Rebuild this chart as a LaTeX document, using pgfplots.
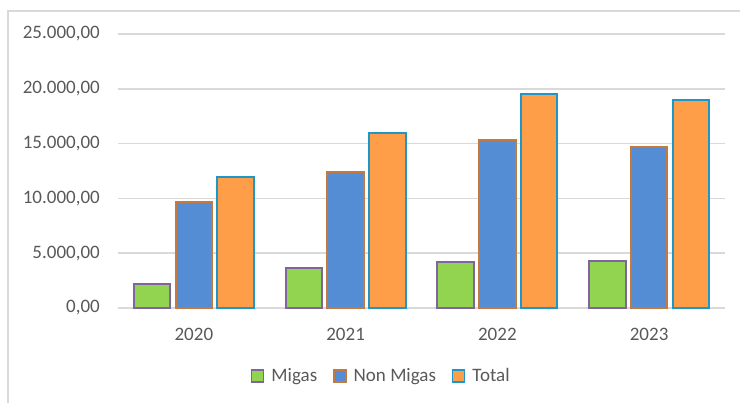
\documentclass[border=0pt]{standalone}
\usepackage{pgfplots}
\pgfplotsset{compat=1.18}
\usepackage{fontspec}
\setmainfont{Carlito}
\definecolor{migasfill}{RGB}{146,212,80}
\definecolor{migasline}{RGB}{128,100,162}
\definecolor{nonfill}{RGB}{84,141,212}
\definecolor{nonline}{RGB}{196,122,62}
\definecolor{totfill}{RGB}{255,158,72}
\definecolor{totline}{RGB}{30,150,200}
\definecolor{gridc}{RGB}{217,217,217}
\definecolor{txt}{RGB}{89,89,89}
\begin{document}
\begin{tikzpicture}[font=\fontsize{19bp}{23bp}\selectfont]
\useasboundingbox (-118bp,-95bp) rectangle (622bp,308bp);
\draw[gridc, line width=1.2bp] (-110bp,-95bp) -- (-110bp,297bp) -- (622bp,297bp);
\begin{axis}[
  at={(0bp,0bp)}, anchor=south west,
  scale only axis, width=607bp, height=274bp,
  xmin=-0.5, xmax=3.5, ymin=0, ymax=25000,
  ytick={0,5000,10000,15000,20000,25000},
  scaled y ticks=false,
  xtick={0,1,2,3}, xticklabels={2020,2021,2022,2023},
  ymajorgrids, grid style={gridc, line width=1.5bp},
  axis line style={draw=none},
  major tick length=0pt,
  tick label style={text=txt, inner sep=0pt, font=\fontsize{19bp}{23bp}\selectfont},
  yticklabel style={xshift=-18bp, /pgf/number format/.cd, fixed, fixed zerofill, precision=2, 1000 sep={.}, use comma, assume math mode=true},
  xticklabel style={yshift=-20bp},
  ybar, bar width=0.24,
  legend image code/.code={\draw[#1, line width=1.5bp] (0bp,-6bp) rectangle (12bp,6bp);},
  legend style={at={(axis description cs:0.4338,-0.248)}, anchor=center, draw=none, fill=none,
    legend columns=-1, text=txt, font=\fontsize{19bp}{23bp}\selectfont,
    /tikz/every odd column/.append style={column sep=5bp},
    /tikz/every even column/.append style={column sep=14bp}},
]
\addlegendimage{fill=migasfill, draw=migasline}
\addlegendimage{fill=nonfill, draw=nonline}
\addlegendimage{fill=totfill, draw=totline}
\addplot[forget plot, fill=migasfill, draw=migasline, line width=2bp, bar shift=-0.275]
  coordinates {(0,2145) (1,3664) (2,4182) (3,4300)};
\addplot[forget plot, fill=nonfill, draw=nonline, line width=2bp, bar shift=0]
  coordinates {(0,9690) (1,12390) (2,15364) (3,14690)};
\addplot[forget plot, fill=totfill, draw=totline, line width=2bp, bar shift=0.275]
  coordinates {(0,11909) (1,15964) (2,19545) (3,18936)};
\legend{Migas, Non Migas, Total}
\end{axis}
\end{tikzpicture}
\end{document}
